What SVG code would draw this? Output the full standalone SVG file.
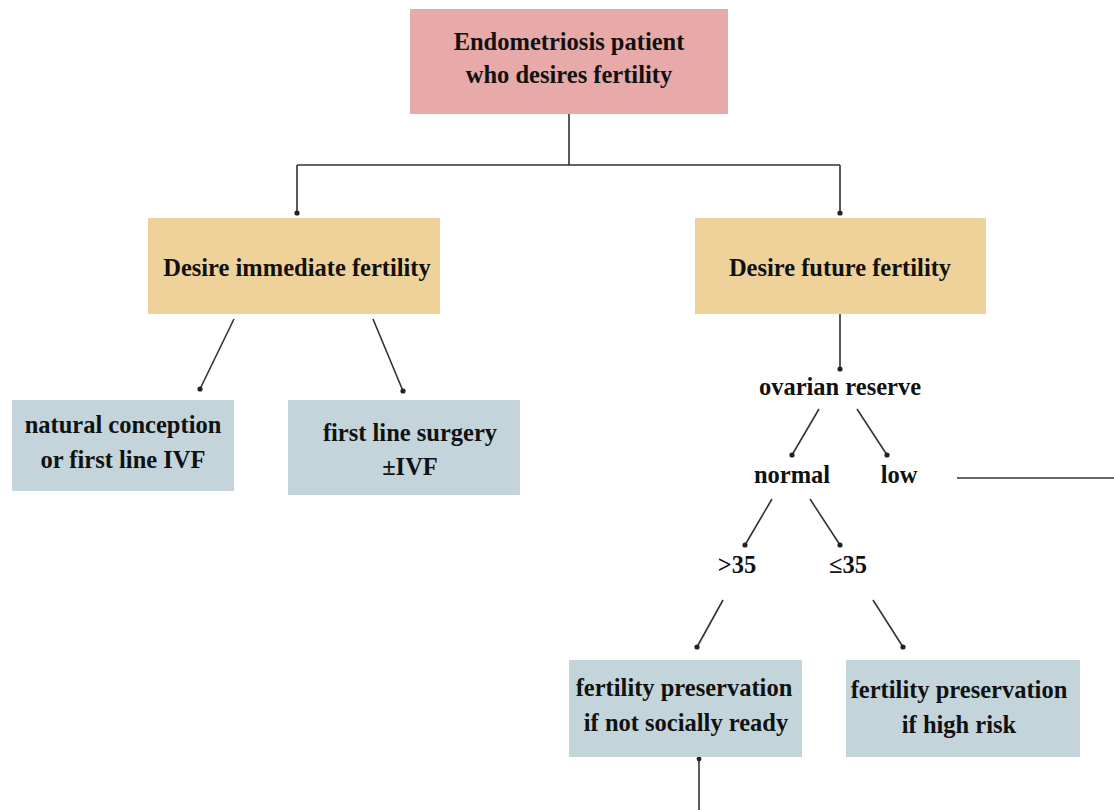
<svg xmlns="http://www.w3.org/2000/svg" width="1114" height="810" viewBox="0 0 1114 810">
<style>
text{font-family:"Liberation Serif","Times New Roman",serif;font-weight:bold;font-size:24.5px;fill:#111;text-anchor:middle}
.pink{fill:#e8a9a9}
.orange{fill:#efd29a}
.blue{fill:#c3d5da}
.ln{stroke:#333;stroke-width:1.6;fill:none}
.dot{fill:#222}
</style>
<rect width="1114" height="810" fill="#ffffff"/>
<g id="connectors">
<path class="ln" d="M569,114 V165 M297,165 H840 M297,165 V213 M840,165 V213"/>
<circle class="dot" cx="297" cy="213" r="2.6"/>
<circle class="dot" cx="840" cy="213" r="2.6"/>
<path class="ln" d="M234,319 L200,389 M373,319 L403,391"/>
<circle class="dot" cx="200" cy="389" r="2.6"/>
<circle class="dot" cx="403" cy="391" r="2.6"/>
<path class="ln" d="M840,314 V369"/>
<circle class="dot" cx="840" cy="369" r="2.6"/>
<path class="ln" d="M819,409 L792,455 M857,409 L887,455"/>
<circle class="dot" cx="792" cy="455" r="2.6"/>
<circle class="dot" cx="887" cy="455" r="2.6"/>
<path class="ln" d="M957,478 H1114"/>
<path class="ln" d="M772,499 L745,545 M810,499 L840,545"/>
<circle class="dot" cx="745" cy="545" r="2.6"/>
<circle class="dot" cx="840" cy="545" r="2.6"/>
<path class="ln" d="M723,600 L697,647 M873,600 L903,647"/>
<circle class="dot" cx="697" cy="647" r="2.6"/>
<circle class="dot" cx="903" cy="647" r="2.6"/>
<path class="ln" d="M699,758 V810"/>
<circle class="dot" cx="699" cy="759" r="2.4"/>
</g>
<g id="root">
<rect class="pink" x="410" y="9" width="318" height="105"/>
<text x="569" y="50">Endometriosis patient</text>
<text x="569" y="83">who desires fertility</text>
</g>
<g id="immediate">
<rect class="orange" x="148" y="218" width="292" height="96"/>
<text x="297" y="276">Desire immediate fertility</text>
</g>
<g id="future">
<rect class="orange" x="695" y="218" width="291" height="96"/>
<text x="840" y="276">Desire future fertility</text>
</g>
<g id="natural">
<rect class="blue" x="12" y="400" width="222" height="91"/>
<text x="123" y="433">natural conception</text>
<text x="123" y="468">or first line IVF</text>
</g>
<g id="surgery">
<rect class="blue" x="288" y="400" width="232" height="95"/>
<text x="410" y="441">first line surgery</text>
<text x="410" y="475">±IVF</text>
</g>
<g id="ovarian">
<text x="840" y="395">ovarian reserve</text>
</g>
<g id="normal">
<text x="792" y="483">normal</text>
</g>
<g id="low">
<text x="899" y="483">low</text>
</g>
<g id="gt35">
<text x="737" y="573">&gt;35</text>
</g>
<g id="le35">
<text x="848" y="573">≤35</text>
</g>
<g id="preserve-social">
<rect class="blue" x="569" y="660" width="233" height="97"/>
<text x="684" y="696">fertility preservation</text>
<text x="686" y="731">if not socially ready</text>
</g>
<g id="preserve-risk">
<rect class="blue" x="846" y="660" width="234" height="97"/>
<text x="959" y="698">fertility preservation</text>
<text x="959" y="733">if high risk</text>
</g>
</svg>
